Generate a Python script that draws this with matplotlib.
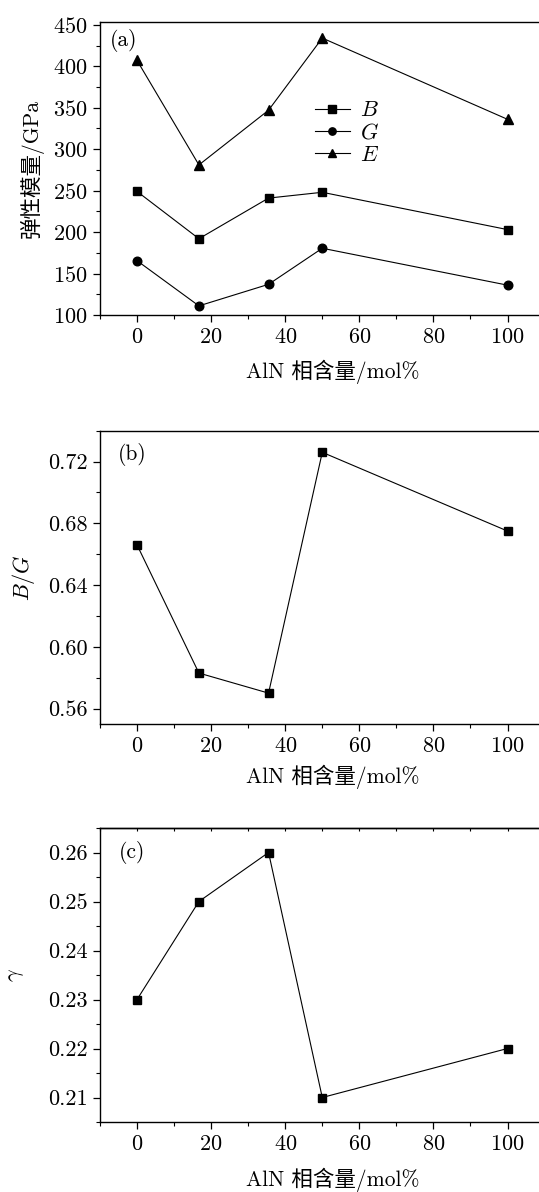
import numpy as np
import matplotlib
matplotlib.use("Agg")
import matplotlib.pyplot as plt
from matplotlib.ticker import MultipleLocator, FormatStrFormatter

plt.rcParams['font.family'] = ['cmr10', 'Noto Sans CJK SC', 'DejaVu Sans']
plt.rcParams['mathtext.fontset'] = 'cm'
plt.rcParams['axes.formatter.use_mathtext'] = True
plt.rcParams['axes.unicode_minus'] = False

# ---- data ----
aln = [0, 16.7, 35.5, 50, 100]
B_vals = [249, 192, 241, 248, 203]
G_vals = [165.5, 111, 137, 180.5, 136]
E_vals = [407, 281, 347, 434, 336]
BG_vals = [0.666, 0.583, 0.570, 0.726, 0.675]
gamma_vals = [0.23, 0.25, 0.26, 0.21, 0.22]
xticks = [0, 20, 40, 60, 80, 100]
xlabel = "AlN 相含量/mol%"

W, H = 539, 1192
fig = plt.figure(figsize=(W / 100, H / 100), dpi=100)

def fr(y_top, y_bot):
    return [100 / W, 1 - y_bot / H, 1 - 100 / W, (y_bot - y_top) / H]

fs = 16
lw = 0.8
ms = 6.2

def style(ax, ylim, major, minor, tag, tagpos, ylabel, ylab_x, xlab_y,
          ylab_fs=15.5):
    ax.set_xlim(-10, 108.5)
    ax.set_ylim(*ylim)
    ax.set_xticks(xticks)
    ax.xaxis.set_minor_locator(MultipleLocator(10))
    ax.yaxis.set_major_locator(MultipleLocator(major))
    ax.yaxis.set_minor_locator(MultipleLocator(minor))
    ax.spines['right'].set_visible(False)
    for s in ['left', 'bottom', 'top']:
        ax.spines[s].set_linewidth(1.0)
    ax.tick_params(which='major', direction='out', length=5, width=0.9,
                   labelsize=fs, top=False, right=False, pad=4)
    ax.tick_params(which='minor', direction='out', length=2.7, width=0.8,
                   top=False, right=False)
    ax.set_xlabel(xlabel, fontsize=15.5, va='center')
    ax.xaxis.set_label_coords(0.53, xlab_y)
    ax.set_ylabel(ylabel, fontsize=ylab_fs, va='center')
    ax.yaxis.set_label_coords(ylab_x, 0.5)
    ax.text(tagpos[0], tagpos[1], tag, transform=ax.transAxes, fontsize=15.5,
            ha='left', va='center')

# panel (a)
ax1 = fig.add_axes(fr(22.3, 315))
ax1.plot(aln, B_vals, '-s', color='black', lw=lw, ms=ms, label='$B$')
ax1.plot(aln, G_vals, '-o', color='black', lw=lw, ms=ms, label='$G$')
ax1.plot(aln, E_vals, '-^', color='black', lw=lw, ms=ms + 0.8, label='$E$')
style(ax1, (100, 453), 50, 25, '(a)', (0.022, 0.937), '弹性模量/GPa',
      -0.155, -0.195, ylab_fs=15.5)
ax1.legend(loc='upper left', bbox_to_anchor=(0.49, 0.732), frameon=False,
           fontsize=16, handlelength=1.55, handletextpad=0.45, labelspacing=0.12,
           borderaxespad=0, borderpad=0, markerscale=0.85)

# panel (b)
ax2 = fig.add_axes(fr(430.7, 724))
ax2.plot(aln, BG_vals, '-s', color='black', lw=lw, ms=ms)
style(ax2, (0.55, 0.74), 0.04, 0.02, '(b)', (0.04, 0.92), '$B/G$',
      -0.175, -0.181, ylab_fs=16)
ax2.yaxis.set_major_formatter(FormatStrFormatter('%.2f'))

# panel (c)
ax3 = fig.add_axes(fr(828, 1122))
ax3.plot(aln, gamma_vals, '-s', color='black', lw=lw, ms=ms)
style(ax3, (0.205, 0.265), 0.01, 0.005, '(c)', (0.043, 0.915), r'$\gamma$',
      -0.19, -0.197, ylab_fs=16)
ax3.yaxis.set_major_formatter(FormatStrFormatter('%.2f'))
sec = ax3.secondary_xaxis('top')
sec.set_xticks(np.arange(-10, 111, 10))
sec.tick_params(direction='in', length=2, width=0.8, labeltop=False)
sec.spines['top'].set_linewidth(1.0)

fig.savefig('out.png', dpi=100)
